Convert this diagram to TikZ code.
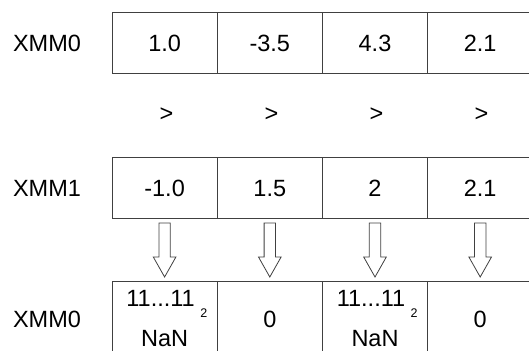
\documentclass[tikz,border=0pt]{standalone}
\usepackage{fontspec}
\setmainfont{Liberation Sans}
\begin{document}
\begin{tikzpicture}[x=1pt,y=-1pt,
  every node/.style={inner sep=0pt,outer sep=0pt,font=\fontsize{23.5}{27}\selectfont},
  cell/.style={draw=black!75,line width=0.8pt,minimum width=105.2pt,minimum height=61pt},
  tallcell/.style={cell,minimum height=90pt},
  txt/.style={anchor=base},
  sub/.style={anchor=base,font=\fontsize{12.5}{14}\selectfont},
  blockarrow/.style={draw=black!75,line width=0.8pt,fill=white,line join=miter}]
\useasboundingbox (0,0) rectangle (529,350);
\clip (0,0) rectangle (529,350);

% register names
\node[txt] (r0) at (47,51.5) {XMM0};
\node[txt] (r1) at (47,196.5) {XMM1};
\node[txt] (r2) at (47,327) {XMM0};

% first operand
\node[cell] (a1) at (164.6,42.5) {};
\node[cell] (a2) at (269.8,42.5) {};
\node[cell] (a3) at (375.0,42.5) {};
\node[cell] (a4) at (480.2,42.5) {};
\node[txt] at ([yshift=-9pt]a1.center) {1.0};
\node[txt] at ([yshift=-9pt]a2.center) {-3.5};
\node[txt] at ([yshift=-9pt]a3.center) {4.3};
\node[txt] at ([yshift=-9pt]a4.center) {2.1};

% comparison
\node (g1) at (166.5,115) {>};
\node (g2) at (271.5,115) {>};
\node (g3) at (376.5,115) {>};
\node (g4) at (481.5,115) {>};

% second operand
\node[cell] (b1) at (164.6,187.5) {};
\node[cell] (b2) at (269.8,187.5) {};
\node[cell] (b3) at (375.0,187.5) {};
\node[cell] (b4) at (480.2,187.5) {};
\node[txt] at ([yshift=-9pt]b1.center) {-1.0};
\node[txt] at ([yshift=-9pt]b2.center) {1.5};
\node[txt] at ([yshift=-9pt]b3.center) {2};
\node[txt] at ([yshift=-9pt]b4.center) {2.1};

% result (boxes run past the lower edge)
\node[tallcell] (c1) at (164.6,326) {};
\node[tallcell] (c2) at (269.8,326) {};
\node[tallcell] (c3) at (375.0,326) {};
\node[tallcell] (c4) at (480.2,326) {};
\node[txt] (m1) at ([xshift=-4pt,yshift=19.5pt]c1.center) {11...11};
\node[sub] at ([xshift=9pt,yshift=-10.5pt]m1.base east) {2};
\node[txt] at ([yshift=-20pt]c1.center) {NaN};
\node[txt] at ([yshift=-1pt]c2.center) {0};
\node[txt] (m3) at ([xshift=-4pt,yshift=19.5pt]c3.center) {11...11};
\node[sub] at ([xshift=9pt,yshift=-10.5pt]m3.base east) {2};
\node[txt] at ([yshift=-20pt]c3.center) {NaN};
\node[txt] at ([yshift=-1pt]c4.center) {0};

% hollow block arrows from the second operand to the result
\foreach \i in {1,2,3,4}{
  \path (b\i.south) ++(0,5) coordinate (s\i);
  \path (c\i.north) ++(0,-4) coordinate (t\i);
  \draw[blockarrow] ([xshift=-5.7pt]s\i) -- ([xshift=5.7pt]s\i)
     -- ([xshift=5.7pt,yshift=20pt]t\i) -- ([xshift=11.3pt,yshift=20pt]t\i)
     -- (t\i) -- ([xshift=-11.3pt,yshift=20pt]t\i)
     -- ([xshift=-5.7pt,yshift=20pt]t\i) -- cycle;
}
\end{tikzpicture}
\end{document}
